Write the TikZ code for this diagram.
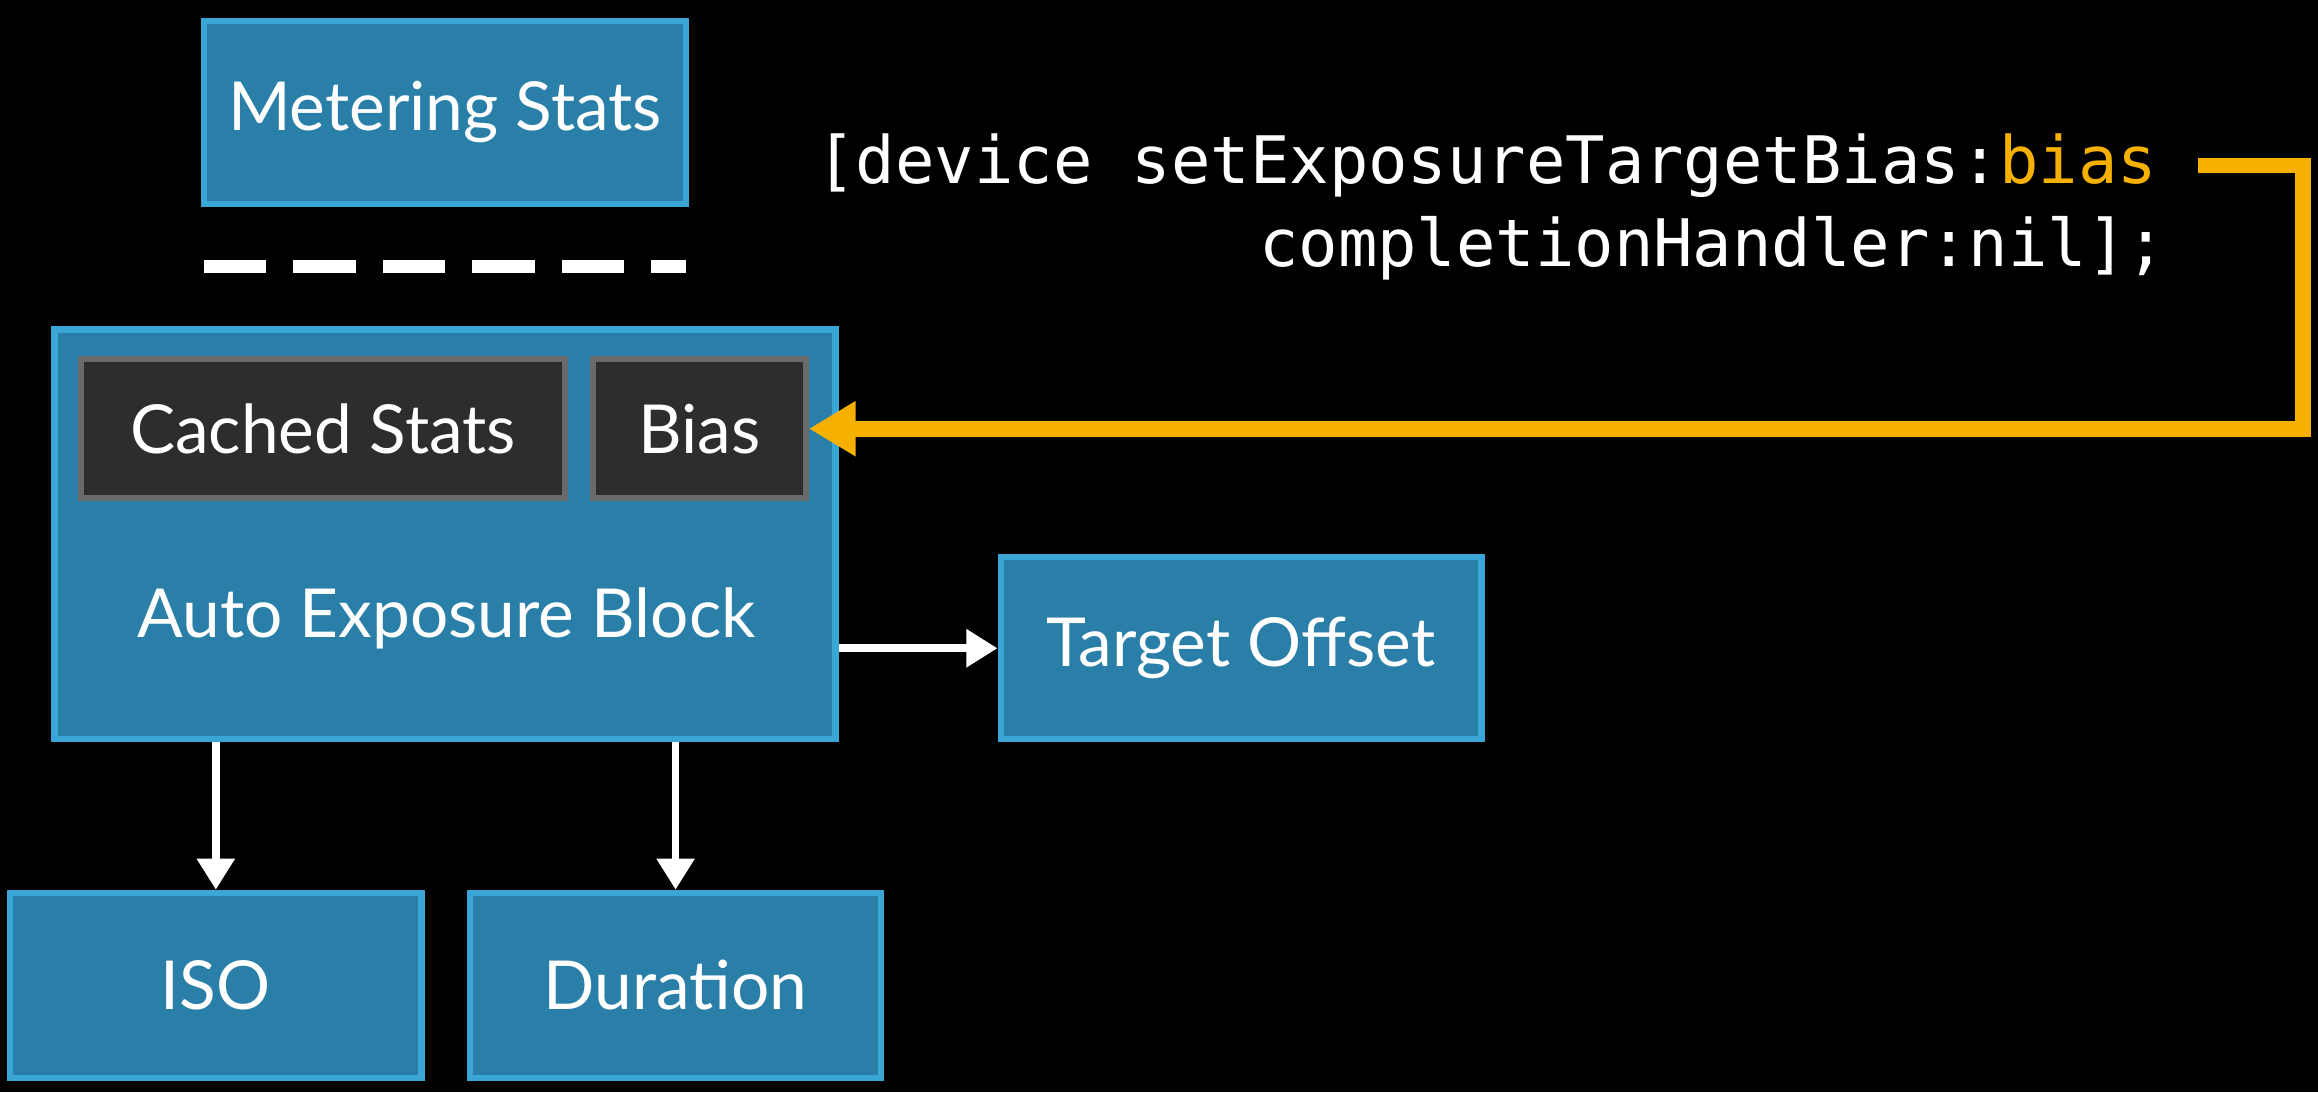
\documentclass[tikz,border=0pt]{standalone}
\usepackage{fontspec}
\setmainfont{Lato}
\setmonofont{DejaVu Sans Mono}
\usetikzlibrary{arrows.meta,calc}
\definecolor{boxblue}{HTML}{2A7FA8}
\definecolor{boxedge}{HTML}{3AA6D6}
\definecolor{cachegray}{HTML}{2D2D2D}
\definecolor{cacheedge}{HTML}{6A6A6A}
\definecolor{codeorange}{HTML}{F5B000}
\begin{document}
\begin{tikzpicture}[x=0.01cm,y=-0.01cm]
  \tikzset{block/.style = {draw=boxedge, fill=boxblue, line width=1.2pt, text=white, inner sep=0pt,
      font=\fontsize{13}{15}\selectfont}}
  \tikzset{inner/.style = {draw=cacheedge, fill=cachegray, line width=1.2pt, text=white, inner sep=0pt,
      font=\fontsize{13}{15}\selectfont}}
  \tikzset{flow/.style = {draw=white, line width=1.5pt, -{Triangle[length=6pt,width=7pt]}}}
  \fill[black] (0,0) rectangle (1568,739);
  \useasboundingbox (0,0) rectangle (1568,739);

  % blocks
  \node[block, minimum width=3.26cm, minimum height=1.24cm] (metering) at (301,76) {Metering Stats};
  \node[block, minimum width=5.28cm, minimum height=2.77cm] (ae) at (301,361.5) {};
  \node[text=white, font=\fontsize{13}{15}\selectfont] (aelabel) at (302,418) {Auto Exposure Block};
  \node[inner, minimum width=3.27cm, minimum height=0.94cm] (cached) at (218.5,290) {Cached Stats};
  \node[inner, minimum width=1.44cm, minimum height=0.94cm] (bias) at (473,290) {Bias};
  \node[block, minimum width=3.25cm, minimum height=1.23cm] (offset) at (839.5,438.5) {Target Offset};
  \node[block, minimum width=2.78cm, minimum height=1.25cm] (iso) at (146,666.5) {ISO};
  \node[block, minimum width=2.78cm, minimum height=1.25cm] (duration) at (457,666.5) {Duration};

  % dashes
  \coordinate (dl) at (138,180);
  \coordinate (dr) at (464,180);
  \draw[white, line width=2.5pt, dash pattern=on 12pt off 5.2pt] (dl) -- (dr);

  % code
  \node[anchor=east, text=white, font=\ttfamily\fontsize{12.6}{15}\selectfont, inner sep=0pt] (code1) at (1460,112)
    {[device setExposureTargetBias:\textcolor{codeorange}{bias}};
  \node[anchor=east, text=white, font=\ttfamily\fontsize{12.6}{15}\selectfont, inner sep=0pt] (code2) at (1466,168)
    {completionHandler:nil];};
  \coordinate (bend) at (1558,112);

  % edges
  \draw[flow] (ae.east |- offset) -- (offset.west);
  \draw[flow] (ae.south -| iso) -- (iso.north);
  \draw[flow] (ae.south -| duration) -- (duration.north);
  \draw[codeorange, line width=3pt, -{Triangle[length=9pt,width=10pt]}]
    ($(code1.east)+(27,0)$) -- (bend) |- (bias.east);
\end{tikzpicture}
\end{document}
